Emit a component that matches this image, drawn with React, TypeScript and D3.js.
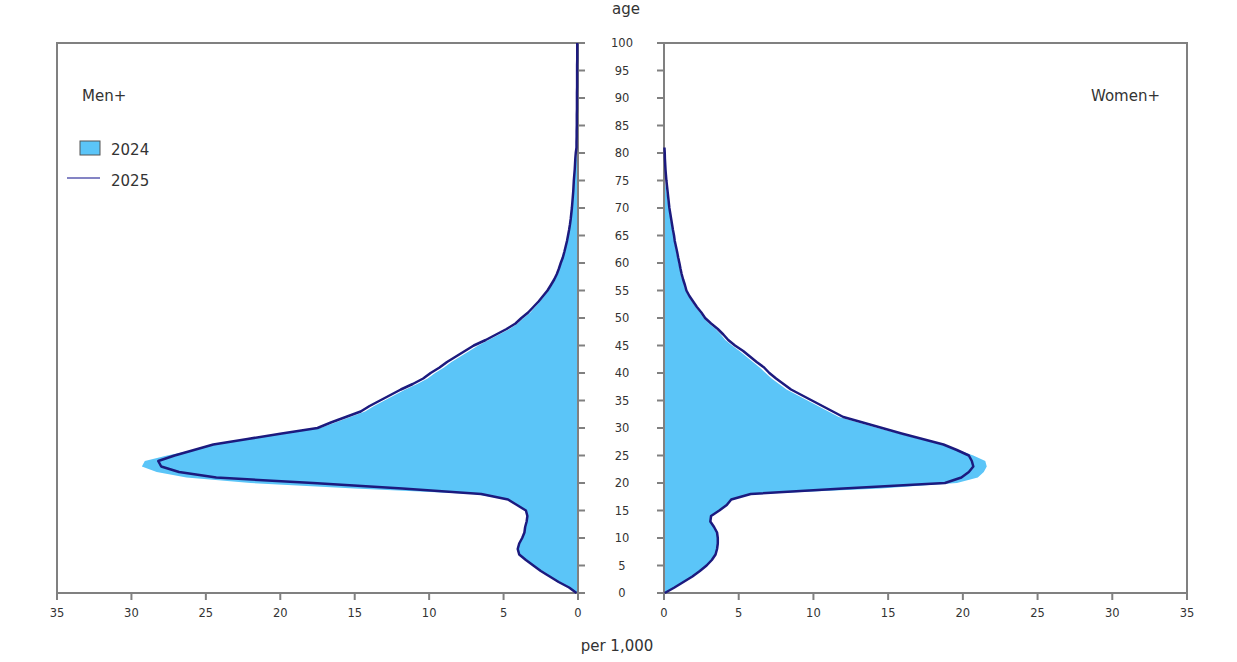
import React from "react";
import * as d3 from "d3";

const ages: number[] = d3.range(0, 101);

const men2025: number[] = [
  0.1, 0.6, 1.3, 1.9, 2.5, 3.0, 3.5, 3.95, 4.05, 3.95,
  3.75, 3.6, 3.55, 3.45, 3.4, 3.5, 4.1, 4.7, 6.5, 11.8,
  17.8, 24.3, 26.8, 28.0, 28.2, 27.1, 25.8, 24.5, 22.2, 19.9,
  17.5, 16.6, 15.6, 14.6, 14.0, 13.3, 12.6, 11.9, 11.1, 10.4,
  9.9, 9.3, 8.8, 8.2, 7.6, 7.0, 6.2, 5.5, 4.8, 4.2,
  3.8, 3.35, 3.0, 2.65, 2.35, 2.05, 1.82, 1.6, 1.42, 1.28,
  1.16, 1.02, 0.92, 0.83, 0.74, 0.67, 0.6, 0.54, 0.49, 0.45,
  0.41, 0.38, 0.35, 0.32, 0.3, 0.28, 0.25, 0.22, 0.2, 0.18,
  0.15, 0.1, 0.1, 0.09, 0.09, 0.08, 0.08, 0.08, 0.07, 0.07,
  0.07, 0.07, 0.06, 0.06, 0.06, 0.06, 0.06, 0.05, 0.05, 0.05,
  0.05,
];

const men2024: number[] = [
  0.1, 0.6, 1.3, 1.9, 2.5, 3.0, 3.5, 3.95, 4.05, 3.95,
  3.75, 3.6, 3.55, 3.45, 3.4, 3.5, 4.1, 4.7, 7.0, 15.0,
  22.0, 26.3, 28.3, 29.3, 29.1, 27.6, 25.8, 24.4, 22.0, 19.7,
  17.3, 16.3, 15.3, 14.3, 13.7, 13.0, 12.3, 11.6, 10.8, 10.1,
  9.6, 9.0, 8.5, 7.9, 7.3, 6.7, 6.0, 5.3, 4.6, 4.05,
  3.65, 3.2, 2.88, 2.55, 2.26, 1.98, 1.75, 1.54, 1.37, 1.23,
  1.12, 0.99, 0.89, 0.8, 0.71, 0.64, 0.57, 0.51, 0.46, 0.42,
  0.38, 0.35, 0.32, 0.29, 0.27, 0.25, 0.22, 0.19, 0.16, 0.12,
  0.08, 0, 0, 0, 0, 0, 0, 0, 0, 0,
  0, 0, 0, 0, 0, 0, 0, 0, 0, 0,
  0,
];

const women2025: number[] = [
  0.05, 0.7, 1.3, 1.9, 2.4, 2.85, 3.2, 3.45, 3.55, 3.6,
  3.6, 3.55, 3.35, 3.1, 3.15, 3.7, 4.2, 4.5, 5.8, 12.0,
  18.8, 19.9, 20.4, 20.7, 20.6, 20.4, 19.6, 18.7, 17.3, 15.9,
  14.6, 13.3, 12.0, 11.3, 10.6, 9.9, 9.2, 8.5, 8.0, 7.5,
  7.05, 6.7, 6.2, 5.75, 5.3, 4.75, 4.3, 3.97, 3.6, 3.15,
  2.75, 2.5, 2.2, 1.95, 1.7, 1.5, 1.4, 1.28, 1.18, 1.1,
  1.03, 0.95, 0.88, 0.8, 0.72, 0.67, 0.6, 0.54, 0.48, 0.42,
  0.36, 0.32, 0.28, 0.24, 0.2, 0.16, 0.13, 0.1, 0.08, 0.06,
  0.05, 0.03,
];

const women2024: number[] = [
  0.05, 0.7, 1.3, 1.9, 2.4, 2.85, 3.2, 3.45, 3.55, 3.6,
  3.6, 3.55, 3.35, 3.1, 3.15, 3.7, 4.2, 4.5, 6.0, 14.5,
  19.6, 21.0, 21.4, 21.6, 21.5, 20.7, 19.7, 18.6, 17.1, 15.7,
  14.3, 13.0, 11.7, 11.0, 10.3, 9.6, 8.9, 8.2, 7.7, 7.2,
  6.8, 6.4, 5.95, 5.5, 5.05, 4.55, 4.1, 3.8, 3.45, 3.0,
  2.65, 2.4, 2.1, 1.87, 1.63, 1.44, 1.34, 1.22, 1.12, 1.04,
  0.97, 0.89, 0.82, 0.74, 0.67, 0.62, 0.55, 0.49, 0.43, 0.37,
  0.31, 0.26, 0.21, 0.16, 0.11, 0.06, 0,
];

const xTicks: number[] = [0, 5, 10, 15, 20, 25, 30, 35];
const yTicks: number[] = d3.range(0, 101, 5);

const FILL = "#5bc5f8";
const LINE = "#1c1a7e";
const FRAME = "#808080";
const TEXT = "#333333";
const FONT = "Tahoma, 'DejaVu Sans', Verdana, sans-serif";

export default function App() {
  const W = 1237, H = 662;
  const top = 43, bottom = 593;
  const xL = d3.scaleLinear().domain([0, 35]).range([578, 57]);
  const xR = d3.scaleLinear().domain([0, 35]).range([664, 1187]);
  const y = d3.scaleLinear().domain([0, 100]).range([bottom, top]);

  const areaL = d3.area<number>().x0(xL(0)).x1((d) => xL(d)).y((_, i) => y(ages[i]));
  const areaR = d3.area<number>().x0(xR(0)).x1((d) => xR(d)).y((_, i) => y(ages[i]));
  const lineL = d3.line<number>().x((d) => xL(d)).y((_, i) => y(ages[i]));
  const lineR = d3.line<number>().x((d) => xR(d)).y((_, i) => y(ages[i]));

  return (
    <svg width={W} height={H} style={{ position: "absolute", left: 0, top: 0, background: "#fff" }} fontFamily={FONT}>
      {/* fills 2024 */}
      <path d={areaL(men2024) || ""} fill={FILL} />
      <path d={areaR(women2024) || ""} fill={FILL} />

      {/* frames */}
      <g stroke={FRAME} strokeWidth={2} fill="none">
        <line x1={57} y1={top} x2={578} y2={top} />
        <line x1={57} y1={top - 1} x2={57} y2={bottom} />
        <line x1={57} y1={bottom} x2={585} y2={bottom} />
        <line x1={578} y1={top - 1} x2={578} y2={bottom} />
        <line x1={664} y1={top} x2={1187} y2={top} />
        <line x1={1187} y1={top - 1} x2={1187} y2={bottom} />
        <line x1={657} y1={bottom} x2={1187} y2={bottom} />
        <line x1={664} y1={top - 1} x2={664} y2={bottom} />
        {yTicks.map((t) => (
          <g key={"yt" + t}>
            <line x1={578} x2={585} y1={y(t)} y2={y(t)} />
            <line x1={657} x2={664} y1={y(t)} y2={y(t)} />
          </g>
        ))}
        {xTicks.map((t) => (
          <g key={"xt" + t}>
            <line x1={xL(t)} x2={xL(t)} y1={bottom} y2={bottom + 7} />
            <line x1={xR(t)} x2={xR(t)} y1={bottom} y2={bottom + 7} />
          </g>
        ))}
      </g>

      {/* 2025 lines */}
      <path d={lineL(men2025) || ""} fill="none" stroke={LINE} strokeWidth={2.5} strokeLinejoin="round" />
      <path d={lineR(women2025) || ""} fill="none" stroke={LINE} strokeWidth={2.5} strokeLinejoin="round" />

      {/* tick labels */}
      <g fontSize={11.5} fill={TEXT} textAnchor="middle">
        {yTicks.map((t) => (
          <text key={"yl" + t} x={622} y={y(t) + 4}>{t}</text>
        ))}
        {xTicks.map((t) => (
          <text key={"xl" + t} x={xL(t)} y={617}>{t}</text>
        ))}
        {xTicks.map((t) => (
          <text key={"xr" + t} x={xR(t)} y={617}>{t}</text>
        ))}
      </g>

      <text x={626} y={14} fontSize={15} fill={TEXT} textAnchor="middle">age</text>
      <text x={617} y={651} fontSize={15} fill={TEXT} textAnchor="middle">per 1,000</text>

      <text x={82} y={101} fontSize={15} fill={TEXT}>Men+</text>
      <text x={1160} y={101} fontSize={15} fill={TEXT} textAnchor="end">Women+</text>

      <rect x={80} y={141} width={20} height={14} fill={FILL} stroke="#555" strokeWidth={1} />
      <text x={111} y={155} fontSize={15} fill={TEXT}>2024</text>
      <line x1={67} x2={100} y1={178} y2={178} stroke="#5b5bb0" strokeWidth={1.5} />
      <text x={111} y={186} fontSize={15} fill={TEXT}>2025</text>
    </svg>
  );
}
